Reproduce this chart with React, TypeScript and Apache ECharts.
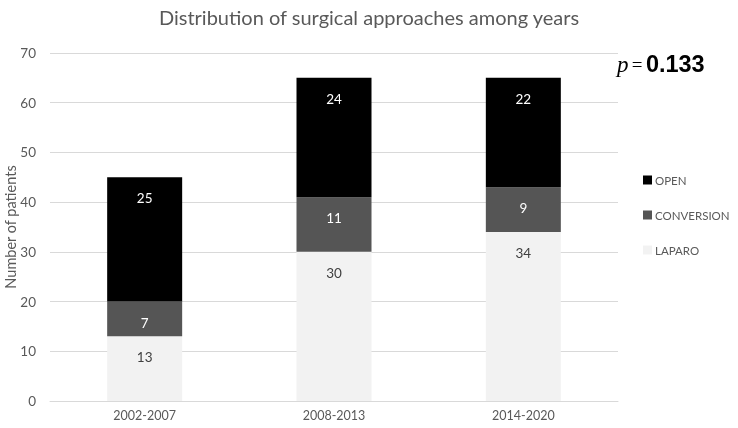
import React, { useEffect, useRef } from "react";
import * as echarts from "echarts";

const categories = ["2002-2007", "2008-2013", "2014-2020"];
const laparo = [13, 30, 34];
const conversion = [7, 11, 9];
const open = [25, 24, 22];
const pValue = "0.133";
const titleText = "Distribution of surgical approaches among years";
const yAxisTitle = "Number of patients";

export default function App() {
  const ref = useRef<HTMLDivElement>(null);
  useEffect(() => {
    const chart = echarts.init(ref.current!, undefined, { renderer: "svg" });
    const font = "Lato, 'Open Sans', sans-serif";
    const mkSeries = (name: string, data: number[], color: string, labelColor: string) => ({
      name,
      type: "bar",
      stack: "total",
      data,
      barWidth: 75,
      itemStyle: { color },
      label: {
        show: true,
        position: "insideTop",
        distance: 14,
        color: labelColor,
        fontSize: 13.5,
        fontFamily: font,
      },
    });
    chart.setOption({
      animation: false,
      title: {
        text: titleText,
        left: "center",
        top: 2,
        textStyle: { fontFamily: font, fontSize: 20, fontWeight: "normal", color: "#595959" },
      },
      legend: {
        orient: "vertical",
        left: 643,
        top: 174,
        padding: 0,
        itemWidth: 9,
        itemHeight: 9,
        itemGap: 23,
        icon: "rect",
        data: ["OPEN", "CONVERSION", "LAPARO"],
        textStyle: { fontFamily: font, fontSize: 11.5, color: "#595959", padding: [0, 0, 0, -2], overflow: "none" },
      },
      grid: { left: 50, right: 120, top: 53, bottom: 27, outerBoundsMode: "none", containLabel: false },
      xAxis: {
        type: "category",
        data: categories,
        axisLine: { lineStyle: { color: "#d9d9d9" } },
        axisTick: { show: false },
        axisLabel: { color: "#595959", fontSize: 12.5, fontFamily: font, margin: 8 },
      },
      yAxis: {
        type: "value",
        min: 0,
        max: 70,
        interval: 10,
        axisLabel: { color: "#595959", fontSize: 13.5, fontFamily: font, margin: 14 },
        splitLine: { lineStyle: { color: "#d9d9d9" } },
      },
      graphic: [
        {
          type: "text",
          x: 10,
          y: 227,
          rotation: Math.PI / 2,
          style: {
            text: yAxisTitle,
            align: "center",
            verticalAlign: "middle",
            fontFamily: font,
            fontSize: 14.5,
            fill: "#595959",
          },
        },
        {
          type: "text",
          left: 617,
          top: 52,
          style: {
            text: "{i|p} {e|=} {b|" + pValue + "}",
            rich: {
              i: { fontFamily: "'Liberation Serif', serif", fontStyle: "italic", fontSize: 23, fill: "#000" },
              e: { fontFamily: "'Liberation Serif', serif", fontSize: 19, fill: "#000" },
              b: { fontFamily: "'Liberation Sans', Arial, sans-serif", fontWeight: "bold", fontSize: 23.5, fill: "#000" },
            },
          },
        },
      ],
      series: [
        mkSeries("LAPARO", laparo, "#f2f2f2", "#404040"),
        mkSeries("CONVERSION", conversion, "#555555", "#ffffff"),
        mkSeries("OPEN", open, "#000000", "#ffffff"),
      ],
    });
    return () => chart.dispose();
  }, []);
  return <div ref={ref} style={{ position: "fixed", left: 0, top: 0, width: 738, height: 428 }} />;
}
